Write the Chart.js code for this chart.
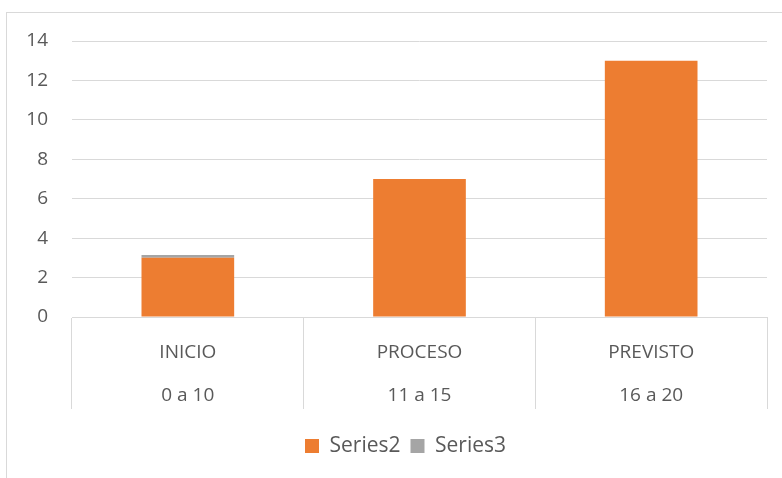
<!DOCTYPE html>
<html>
<head>
<meta charset="utf-8">
<script src="https://cdn.jsdelivr.net/npm/chart.js@4"></script>
<style>
  html, body { margin: 0; padding: 0; background: #fff; overflow: hidden; }
  #wrap { position: relative; width: 782px; height: 478px; }
  #frame { position: absolute; left: 6px; top: 12px; width: 900px; height: 600px;
           border-left: 1px solid #d9d9d9; border-top: 1px solid #d9d9d9; }
  canvas { position: absolute; left: 0; top: 0; }
</style>
</head>
<body>
<div id="wrap">
  <div id="frame"></div>
  <canvas id="chart" width="782" height="478"></canvas>
</div>
<script>
const categories = ['INICIO', 'PROCESO', 'PREVISTO'];
const ranges = ['0 a 10', '11 a 15', '16 a 20'];
const series2 = [3, 7, 13];
const series3 = [0.15, 0, 0];
const yTicks = [0, 2, 4, 6, 8, 10, 12, 14];

const labels = categories.map((c, i) => [c, ranges[i]]);
const font = { family: '"Open Sans", sans-serif', size: 19 };

// the legend in the original sits a bit right of the canvas centre
const legendShift = {
  id: 'legendShift',
  afterLayout(chart) {
    chart.legend.left += 22;
    chart.legend.right += 22;
  }
};

const ctx = document.getElementById('chart').getContext('2d');

new Chart(ctx, {
  type: 'bar',
  data: {
    labels: labels,
    datasets: [
      { label: 'Series2', data: series2, backgroundColor: '#ED7D31' },
      { label: 'Series3', data: series3, backgroundColor: '#A5A5A5' }
    ]
  },
  options: {
    responsive: false,
    animation: false,
    layout: { padding: { top: 41, right: 15, left: 0, bottom: 11.5 } },
    datasets: { bar: { categoryPercentage: 1, barPercentage: 0.4 } },
    scales: {
      x: {
        stacked: true,
        grid: { offset: true, drawOnChartArea: false, tickLength: 92, color: '#d9d9d9' },
        border: { color: '#d9d9d9' },
        ticks: { color: '#595959', font: { ...font, lineHeight: 43 / 19 }, padding: -78, maxRotation: 0 },
        afterFit: s => { s.height = 108.5; }
      },
      y: {
        stacked: true,
        min: 0,
        max: yTicks[yTicks.length - 1],
        grid: { color: '#d9d9d9', drawTicks: false },
        border: { display: false },
        ticks: { stepSize: yTicks[1] - yTicks[0], color: '#595959', font: font, padding: 24 },
        afterFit: s => { s.width = 72; }
      }
    },
    plugins: {
      tooltip: { enabled: false },
      legend: {
        position: 'bottom',
        labels: { boxWidth: 14, boxHeight: 14, color: '#595959', font: { ...font, size: 21 }, padding: 10 }
      }
    }
  },
  plugins: [legendShift]
});
</script>
</body>
</html>
